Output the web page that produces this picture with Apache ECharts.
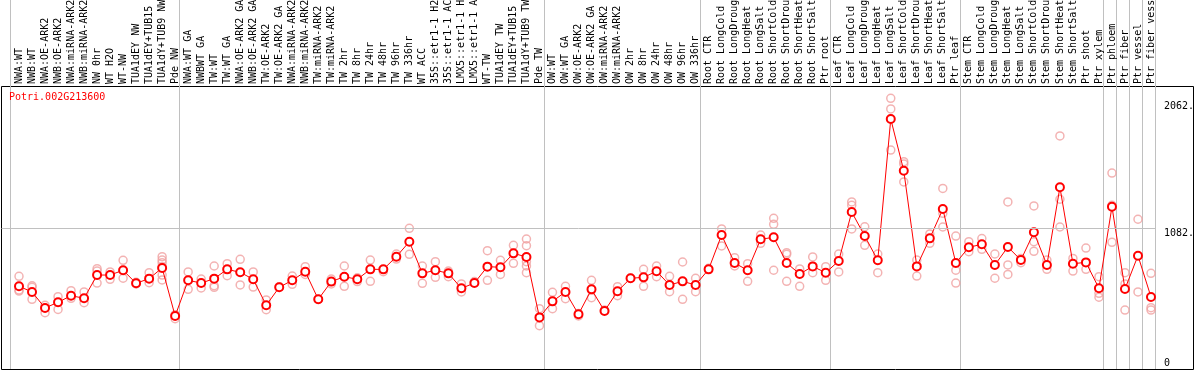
<!DOCTYPE html>
<html><head><meta charset="utf-8">
<script src="https://cdn.jsdelivr.net/npm/echarts@6/dist/echarts.min.js"></script>
<style>html,body{margin:0;padding:0;background:#fff}#c{width:1194px;height:370px}</style>
</head><body><div id="c"></div>
<script>
const title = 'Potri.002G213600';
const categories = [
  'NWA:WT','NWB:WT','NWA:OE-ARK2','NWB:OE-ARK2','NWA:miRNA-ARK2','NWB:miRNA-ARK2','NW 0hr','WT H2O','WT-NW','TUA1dEY NW','TUA1dEY+TUB15 NW','TUA1dY+TUB9 NW','Pde NW',
  'NWA:WT GA','NWBWT GA','TW:WT','TW:WT GA','NWA:OE-ARK2 GA','NWB:OE-ARK2 GA','TW:OE-ARK2','TW:OE-ARK2 GA','NWA:miRNA-ARK2 GA','NWB:miRNA-ARK2 GA','TW:miRNA-ARK2','TW:miRNA-ARK2',
  'TW 2hr','TW 8hr','TW 24hr','TW 48hr','TW 96hr','TW 336hr','WT ACC','35S::etr1-1 H2O','35S::etr1-1 ACC','LMX5::etr1-1 H2O','LMX5::etr1-1 ACC','WT-TW','TUA1dEY TW','TUA1dEY+TUB15 TW','TUA1dY+TUB9 TW','Pde TW',
  'OW:WT','OW:WT GA','OW:OE-ARK2','OW:OE-ARK2 GA','OW:miRNA-ARK2','OW:miRNA-ARK2','OW 2hr','OW 8hr','OW 24hr','OW 48hr','OW 96hr','OW 336hr',
  'Root CTR','Root LongCold','Root LongDrought','Root LongHeat','Root LongSalt','Root ShortCold','Root ShortDrought','Root ShortHeat','Root ShortSalt','Ptr root',
  'Leaf CTR','Leaf LongCold','Leaf LongDrought','Leaf LongHeat','Leaf LongSalt','Leaf ShortCold','Leaf ShortDrought','Leaf ShortHeat','Leaf ShortSalt','Ptr leaf',
  'Stem CTR','Stem LongCold','Stem LongDrought','Stem LongHeat','Stem LongSalt','Stem ShortCold','Stem ShortDrought','Stem ShortHeat','Stem ShortSalt','Ptr shoot','Ptr xylem',
  'Ptr phloem','Ptr fiber','Ptr vessel','Ptr fiber vessel'
];
const groupStarts = [0, 13, 41, 53, 63, 73, 84, 85, 86, 87];
const means = [
  633, 589, 465, 509, 560, 540, 720, 720, 757, 656, 692, 775, 403,
  679, 658, 692, 764, 741, 687, 486, 625, 679, 746, 532, 669,
  707, 687, 764, 764, 862, 978, 733, 757, 733, 617, 658, 785, 780, 888, 860, 392,
  516, 589, 416, 609, 441, 594, 695, 702, 749, 643, 671, 643,
  764, 1030, 813, 757, 997, 1012, 813, 728, 787, 738,
  829, 1208, 1022, 834, 1928, 1528, 787, 1004, 1231, 813,
  935, 958, 798, 937, 836, 1051, 798, 1400, 808, 818, 617,
  1249, 612, 870, 550
];
const replicates = [
  [710, 596, 604], [637, 532, 625], [486, 428], [552, 454], [599, 540], [589, 506], [769, 751, 658], [744, 687], [834, 695], [664, 651], [738, 661], [862, 836, 816, 785, 720, 682], [413, 382],
  [744, 609], [689, 620], [790, 637, 625], [808, 715], [842, 643], [744, 627], [527, 452], [630], [712, 648], [785, 725], [532], [689, 651],
  [790, 633], [699, 669], [836, 671], [746], [883, 844], [1082, 880], [790, 656], [823, 702], [751, 707], [651, 589], [669], [909, 679], [834, 725], [950, 811], [999, 947, 823, 738, 790], [459, 328],
  [586, 459], [633, 537], [423, 403], [679, 545], [449], [630, 560], [695], [764, 633], [790, 707], [710, 591], [821, 532], [695, 591],
  [772], [1077, 945], [854, 790], [808, 671], [1030, 966], [1159, 1113, 757], [893, 880, 671], [767, 633], [860, 738], [785, 679],
  [883, 744], [1286, 1260, 1077], [1094, 950], [883, 738], [2089, 2006, 1688], [1598, 1580, 1441], [836, 712], [1038, 966], [1391, 1198, 1092], [1022, 757, 658],
  [978, 901], [1002, 919], [883, 695], [1286, 798, 725], [849, 816], [1255, 978, 904], [836, 764], [1797, 1307, 1092], [849, 751], [929, 764], [707, 578, 548],
  [1510, 1260, 973], [738, 651, 449], [1152, 589], [733, 467, 449]
];
const yTickLabels = [1082, 2062];
const yZeroLabel = [0];
const refLineValue = 1082;
const yMax = 2184;

const mono = 'DejaVu Sans Mono';
const repData = [];
replicates.forEach((arr, i) => arr.forEach(v => repData.push([i, v])));

const chart = echarts.init(document.getElementById('c'), null, {renderer: 'canvas'});
chart.setOption({
  animation: false,
  backgroundColor: '#fff',
  title: {
    text: title, left: 9, top: 92, padding: 0,
    textStyle: {fontFamily: mono, fontSize: 10, fontWeight: 'normal', color: '#ff0000', lineHeight: 10}
  },
  grid: [
    {left: 12.5, right: 36.5, top: 86, bottom: 2, outerBoundsMode: 'none'},
    {left: 10.5, right: 38.5, top: 0, bottom: 1, outerBoundsMode: 'none'},
    {left: 1.5, right: 38.5, top: 86, bottom: 2, outerBoundsMode: 'none'},
    {left: 1.5, right: 0.5, top: 86.5, bottom: 0.5, show: true, borderColor: '#000', borderWidth: 1, backgroundColor: 'transparent', outerBoundsMode: 'none'}
  ],
  xAxis: [
    {gridIndex: 0, type: 'category', data: categories, position: 'top', boundaryGap: true,
     axisLine: {show: false}, axisTick: {show: false}, splitLine: {show: false},
     axisLabel: {interval: 0, rotate: 90, margin: 2, fontFamily: mono, fontSize: 10, color: '#000'}},
    {gridIndex: 1, type: 'category', data: categories, boundaryGap: true,
     axisLine: {show: false}, axisTick: {show: false}, axisLabel: {show: false},
     splitLine: {show: true, interval: (i) => groupStarts.includes(i), lineStyle: {color: '#c0c0c0', width: 1}}},
    {gridIndex: 2, type: 'value', min: 0, max: 1, show: false},
    {gridIndex: 3, type: 'value', min: 0, max: 1, show: false}
  ],
  yAxis: [
    {gridIndex: 0, type: 'value', min: 0, max: yMax, position: 'right',
     axisLine: {show: false}, axisTick: {show: false}, splitLine: {show: false},
     axisLabel: {customValues: yTickLabels, formatter: (v) => v + '.', verticalAlign: 'top', lineHeight: 10, margin: 6.5,
                 fontFamily: mono, fontSize: 10, color: '#000'}},
    {gridIndex: 0, type: 'value', min: 0, max: yMax, position: 'right',
     axisLine: {show: false}, axisTick: {show: false}, splitLine: {show: false},
     axisLabel: {customValues: yZeroLabel, formatter: (v) => String(v), verticalAlign: 'bottom', lineHeight: 10, margin: 6.5,
                 fontFamily: mono, fontSize: 10, color: '#000'}},
    {gridIndex: 1, type: 'value', min: 0, max: 1, show: false},
    {gridIndex: 2, type: 'value', min: 0, max: yMax, show: false},
    {gridIndex: 3, type: 'value', min: 0, max: 1, show: false}
  ],
  series: [
    {type: 'line', xAxisIndex: 2, yAxisIndex: 3, data: [], silent: true,
     markLine: {silent: true, symbol: ['none', 'none'], label: {show: false},
                lineStyle: {color: '#c0c0c0', width: 1, type: 'solid'}, data: [{yAxis: refLineValue}]}},
    {type: 'scatter', xAxisIndex: 0, yAxisIndex: 0, data: repData, symbol: 'circle', symbolSize: 8, z: 3,
     itemStyle: {color: 'rgba(0,0,0,0)', borderColor: '#f0a0a0', borderWidth: 1.5}},
    {type: 'line', xAxisIndex: 0, yAxisIndex: 0, data: means, symbol: 'emptyCircle', symbolSize: 8, z: 4,
     lineStyle: {color: '#ff0000', width: 1}, itemStyle: {color: '#ff0000', borderWidth: 1.5}}
  ]
});
</script>
</body></html>
